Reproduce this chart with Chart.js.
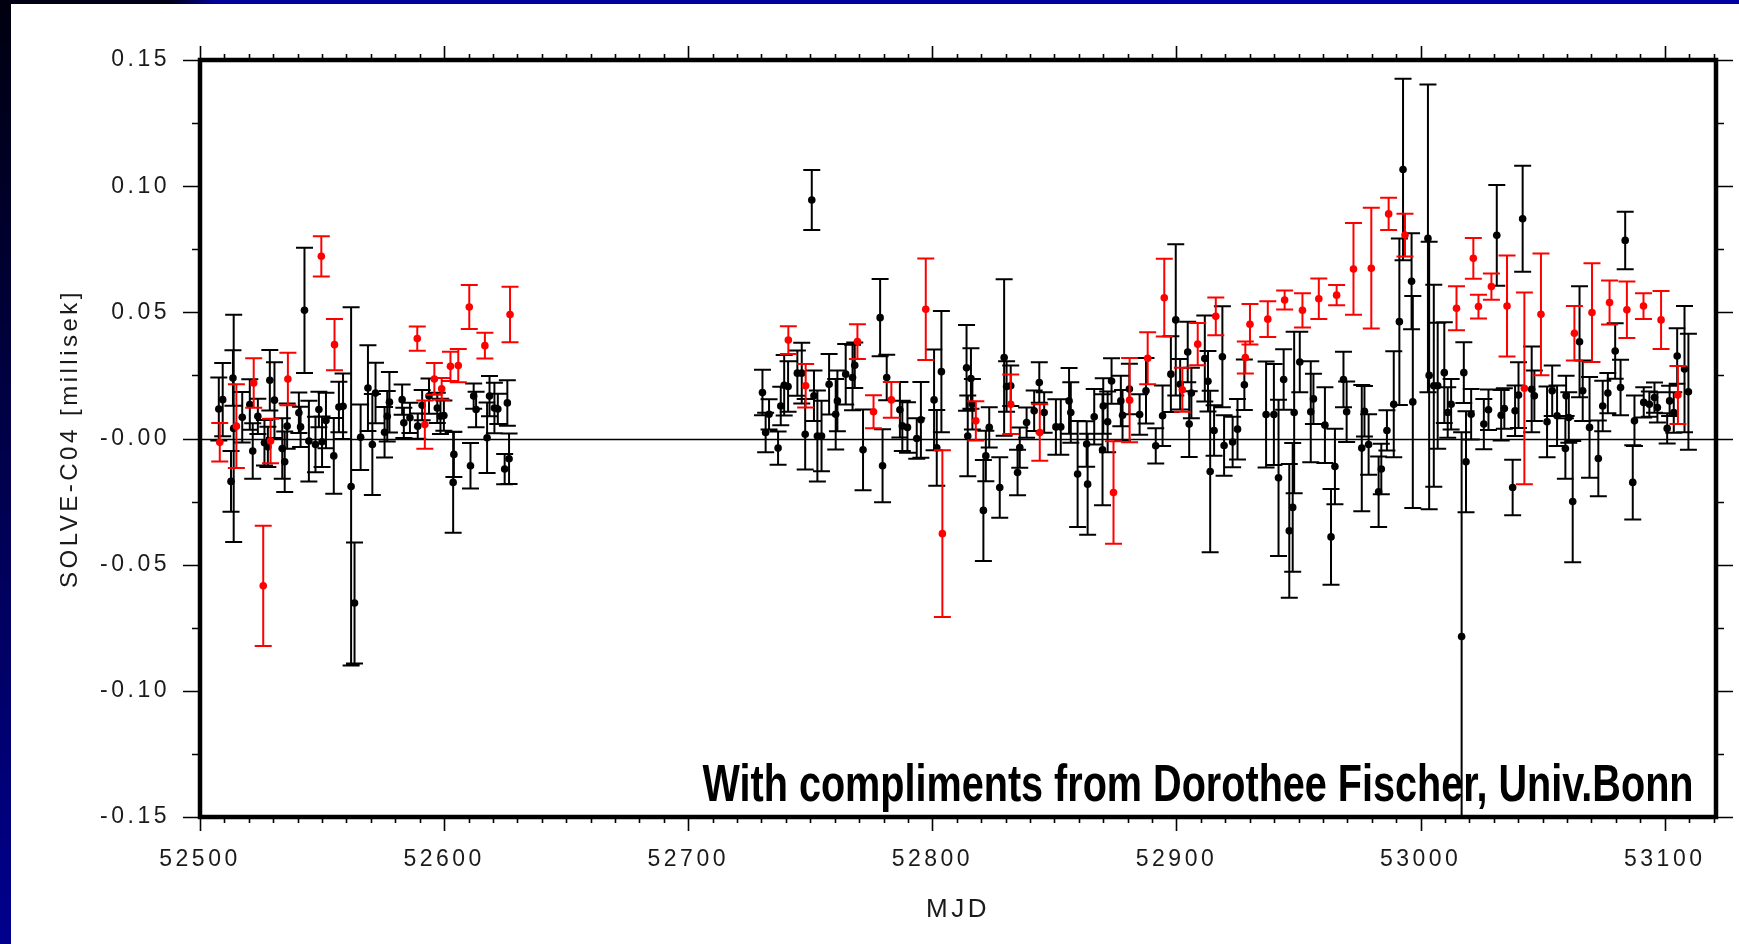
<!DOCTYPE html>
<html>
<head>
<meta charset="utf-8">
<title>SOLVE - C04</title>
<script src="https://cdn.jsdelivr.net/npm/chart.js@4.4.0/dist/chart.umd.min.js"></script>
<style>
	html, body { margin: 0; padding: 0; background: #fff; overflow: hidden; }
	#slide { position: relative; width: 1739px; height: 944px; background: #fff; }
	#topbar { position: absolute; left: 0; top: 0; width: 1739px; height: 4px;
		background: linear-gradient(to right, #000014 0, #000018 170px, #00009c 215px, #0000a6 100%); }
	#sidebar { position: absolute; left: 0; top: 0; width: 11px; height: 944px;
		background: linear-gradient(to bottom, #000010 0%, #00003a 35%, #00008e 100%); }
	#plot { position: absolute; left: 0; top: 0; }
</style>
</head>
<body>
<div id="slide">
	<canvas id="plot" width="1739" height="944"></canvas>
	<div id="topbar"></div>
	<div id="sidebar"></div>
</div>
<script>

	// ******************************************************** DATA
	// [MJD, SOLVE - C04 (ms), sigma (ms)]

	var blackSessions = [
		[52507.7, 0.0117, 0.0125], [52509.3, 0.0154, 0.0145], [52512.7, -0.0170, 0.012], [52513.5, 0.0240, 0.011],
		[52513.8, 0.0040, 0.045], [52517.3, 0.0084, 0.010], [52520.4, 0.0135, 0.010], [52521.6, -0.0050, 0.011],
		[52523.7, 0.0088, 0.007], [52526.4, -0.0017, 0.009], [52527.8, -0.0033, 0.008], [52528.6, 0.0231, 0.012],
		[52530.5, 0.0152, 0.015], [52533.7, -0.0040, 0.012], [52534.7, -0.0092, 0.012], [52535.7, 0.0049, 0.009],
		[52540.5, 0.0102, 0.008], [52541.2, 0.0046, 0.008], [52542.8, 0.0508, 0.0248], [52544.6, -0.0010, 0.016],
		[52547.3, -0.0024, 0.011], [52548.7, 0.0115, 0.007], [52550.0, -0.0013, 0.010], [52551.6, 0.0071, 0.011],
		[52554.8, -0.0069, 0.015], [52556.9, 0.0125, 0.010], [52558.6, 0.0128, 0.013], [52561.9, -0.0190, 0.071],
		[52563.3, -0.0652, 0.024], [52565.8, 0.0005, 0.013], [52568.8, 0.0200, 0.017], [52570.6, -0.0024, 0.020],
		[52571.9, 0.0180, 0.012], [52575.6, 0.0025, 0.010], [52576.7, 0.0088, 0.010], [52577.6, 0.0144, 0.012],
		[52582.8, 0.0154, 0.006], [52583.5, 0.0062, 0.006], [52586.0, 0.0082, 0.006], [52589.2, 0.0049, 0.005],
		[52591.0, 0.0132, 0.006], [52593.8, 0.0168, 0.007], [52597.2, 0.0121, 0.006], [52598.5, 0.0088, 0.007],
		[52599.9, 0.0091, 0.006], [52603.7, -0.0174, 0.020], [52604.0, -0.0063, 0.009], [52610.8, -0.0108, 0.009],
		[52612.1, 0.0168, 0.005], [52613.1, 0.0115, 0.007], [52617.6, 0.0003, 0.014], [52618.6, 0.0168, 0.008],
		[52620.6, 0.0121, 0.010], [52622.0, 0.0117, 0.006], [52624.8, -0.0121, 0.006], [52625.9, 0.0141, 0.009],
		[52626.6, -0.0080, 0.010],

		[52730.4, 0.0182, 0.009], [52731.7, 0.0024, 0.0078], [52733.1, 0.0096, 0.006], [52736.8, -0.0038, 0.0066],
		[52737.9, 0.0129, 0.0076], [52739.3, 0.0211, 0.012], [52740.9, 0.0206, 0.010], [52744.7, 0.0259, 0.009],
		[52746.5, 0.0259, 0.012], [52747.9, 0.0017, 0.014], [52750.6, 0.0945, 0.0119], [52751.5, 0.0169, 0.010],
		[52752.9, 0.0010, 0.018], [52754.6, 0.0010, 0.014], [52757.7, 0.0215, 0.012], [52760.4, 0.0096, 0.014],
		[52761.1, 0.0149, 0.012], [52764.5, 0.0255, 0.012], [52767.3, 0.0242, 0.013], [52768.2, 0.0290, 0.009],
		[52771.6, -0.0045, 0.016], [52778.6, 0.0479, 0.0153], [52779.6, -0.0108, 0.0145], [52781.3, 0.0242, 0.009],
		[52786.7, 0.0114, 0.011], [52787.7, 0.0050, 0.010], [52789.8, 0.0044, 0.010], [52793.6, 0.0000, 0.008],
		[52795.3, 0.0074, 0.015], [52800.7, 0.0153, 0.020], [52801.8, -0.0037, 0.015], [52803.7, 0.0265, 0.024],
		[52814.0, 0.0280, 0.017], [52814.5, 0.0010, 0.016], [52815.8, 0.0238, 0.012], [52816.4, 0.0136, 0.010],
		[52820.9, -0.0285, 0.020], [52821.9, -0.0069, 0.010], [52823.3, 0.0044, 0.008], [52827.6, -0.0194, 0.012],
		[52829.4, 0.0321, 0.031], [52830.4, 0.0206, 0.010], [52832.1, 0.0209, 0.008], [52834.9, -0.0135, 0.009],
		[52835.8, -0.0036, 0.008], [52838.6, 0.0063, 0.006], [52841.7, 0.0110, 0.008], [52843.8, 0.0222, 0.008],
		[52845.8, 0.0103, 0.008], [52850.6, 0.0046, 0.011], [52852.6, 0.0046, 0.011], [52856.0, 0.0149, 0.013],
		[52856.7, 0.0103, 0.012], [52859.5, -0.0141, 0.021], [52863.2, -0.0022, 0.009], [52863.6, -0.0181, 0.020],
		[52866.3, 0.0086, 0.011], [52869.7, -0.0045, 0.022], [52870.0, 0.0129, 0.011], [52871.8, 0.0066, 0.012],
		[52873.4, 0.0228, 0.009], [52877.2, 0.0149, 0.010], [52877.9, 0.0092, 0.010], [52880.7, 0.0196, 0.010],
		[52884.9, 0.0095, 0.008], [52887.5, 0.0189, 0.013], [52891.5, -0.0029, 0.007], [52894.3, 0.0090, 0.012],
		[52897.7, 0.0255, 0.015], [52899.7, 0.0470, 0.030], [52901.5, 0.0215, 0.010], [52904.6, 0.0343, 0.012],
		[52905.2, 0.0057, 0.013], [52906.1, 0.0180, 0.010],

		[52911.6, 0.0317, 0.017], [52912.9, 0.0227, 0.012], [52913.8, -0.0131, 0.032], [52915.4, 0.0032, 0.010],
		[52918.8, 0.0324, 0.020], [52919.5, -0.0028, 0.012], [52923.0, -0.0014, 0.010], [52925.0, 0.0037, 0.012],
		[52927.8, 0.0213, 0.010], [52936.7, 0.0095, 0.021], [52939.9, 0.0095, 0.020], [52941.8, -0.0156, 0.031],
		[52943.9, 0.0234, 0.012], [52946.2, -0.0366, 0.0265], [52947.6, -0.0273, 0.0255], [52948.2, 0.0103, 0.032],
		[52950.5, 0.0303, 0.012], [52955.0, 0.0106, 0.020], [52956.1, 0.0157, 0.010], [52960.8, 0.0053, 0.015],
		[52963.3, -0.0390, 0.019], [52964.9, -0.0111, 0.015], [52968.4, 0.0234, 0.011], [52969.7, 0.0106, 0.012],
		[52975.9, -0.0038, 0.025], [52977.0, 0.0108, 0.010], [52978.7, -0.0024, 0.012], [52982.8, -0.0211, 0.014],
		[52983.9, -0.0121, 0.010], [52986.2, 0.0032, 0.008], [52989.0, 0.0136, 0.021], [52991.3, 0.0463, 0.033],
		[52992.8, 0.1066, 0.036], [52996.3, 0.0623, 0.019], [52996.8, 0.0145, 0.042], [53003.0, 0.0793, 0.061],
		[53003.5, 0.0250, 0.053], [53005.4, 0.0209, 0.040], [53007.0, 0.0209, 0.025], [53009.7, 0.0261, 0.020],
		[53011.1, 0.0103, 0.010], [53012.5, 0.0136, 0.010], [53016.8, -0.0785, 0.081], [53017.7, 0.0261, 0.012],
		[53018.6, -0.0092, 0.020], [53020.7, 0.0096, 0.010], [53025.9, 0.0057, 0.010], [53027.8, 0.0114, 0.008],
		[53031.2, 0.0805, 0.020], [53033.0, 0.0092, 0.010], [53034.3, 0.0119, 0.008], [53037.7, -0.0194, 0.011],
		[53038.7, 0.0110, 0.010], [53040.1, 0.0172, 0.013], [53041.8, 0.0871, 0.021], [53045.5, 0.0195, 0.017],
		[53046.6, 0.0169, 0.010], [53051.8, 0.0066, 0.014], [53053.9, 0.0189, 0.010], [53055.9, 0.0090, 0.012],
		[53059.3, -0.0040, 0.012], [53059.6, 0.0169, 0.008], [53060.7, 0.0083, 0.010], [53062.3, -0.0250, 0.024],
		[53065.1, 0.0383, 0.022], [53066.4, 0.0189, 0.012], [53069.2, 0.0044, 0.020], [53072.8, -0.0079, 0.015],
		[53074.6, 0.0129, 0.010], [53076.7, 0.0180, 0.008], [53079.7, 0.0347, 0.011], [53081.9, 0.0202, 0.011],
		[53083.8, 0.0785, 0.0114], [53086.9, -0.0174, 0.0147], [53087.6, 0.0070, 0.010], [53091.4, 0.0143, 0.006],
		[53093.7, 0.0136, 0.005], [53095.8, 0.0162, 0.006], [53097.0, 0.0123, 0.006], [53101.0, 0.0040, 0.006],
		[53102.0, 0.0149, 0.006], [53103.7, 0.0103, 0.008], [53105.1, 0.0327, 0.011], [53108.1, 0.0275, 0.025],
		[53109.7, 0.0185, 0.023]
	];

	var redSessions = [
		[52508.1, -0.0015, 0.0076], [52514.9, 0.0049, 0.0166], [52522.0, 0.0220, 0.0098], [52525.9, -0.0584, 0.0238],
		[52528.9, -0.0010, 0.0088], [52536.0, 0.0236, 0.0104], [52549.7, 0.0722, 0.0080], [52555.1, 0.0372, 0.0102],
		[52589.0, 0.0396, 0.0048], [52592.1, 0.0055, 0.0096], [52596.0, 0.0236, 0.0063], [52599.0, 0.0197, 0.0043],
		[52602.6, 0.0286, 0.0058], [52605.8, 0.0289, 0.0066], [52610.3, 0.0521, 0.0087], [52616.7, 0.0368, 0.0051],
		[52627.0, 0.0491, 0.0110],

		[52741.0, 0.0390, 0.0055], [52748.1, 0.0209, 0.0086], [52769.3, 0.0384, 0.0069], [52775.9, 0.0106, 0.0065],
		[52783.2, 0.0153, 0.0071], [52797.3, 0.0512, 0.0201], [52804.1, -0.0377, 0.0330], [52817.8, 0.0070, 0.0078],
		[52832.1, 0.0136, 0.0118], [52844.0, 0.0024, 0.0112], [52874.2, -0.0214, 0.0203], [52880.8, 0.0152, 0.0167],
		[52888.2, 0.0318, 0.0103], [52895.0, 0.0558, 0.0154], [52902.4, 0.0193, 0.0087], [52908.7, 0.0374, 0.0084],
		[52916.1, 0.0484, 0.0075], [52928.2, 0.0321, 0.0063], [52930.1, 0.0453, 0.0080], [52937.4, 0.0473, 0.0071],
		[52944.3, 0.0549, 0.0038], [52951.6, 0.0508, 0.0068], [52958.3, 0.0554, 0.0080], [52965.6, 0.0568, 0.0040],
		[52972.5, 0.0672, 0.0182], [52979.8, 0.0675, 0.0239], [52986.9, 0.0890, 0.0064], [52993.6, 0.0806, 0.0085],
		[53014.7, 0.0516, 0.0087], [53021.6, 0.0714, 0.0081], [53023.7, 0.0523, 0.0047], [53029.0, 0.0602, 0.0052],
		[53035.4, 0.0525, 0.0200], [53042.5, 0.0199, 0.0380], [53049.3, 0.0492, 0.0241], [53063.0, 0.0417, 0.0108],
		[53070.2, 0.0499, 0.0196], [53077.4, 0.0539, 0.0087], [53084.5, 0.0510, 0.0112], [53091.3, 0.0525, 0.0051],
		[53098.5, 0.0470, 0.0115], [53105.4, 0.0172, 0.0115]
	];

	var xTickValues = [52500, 52600, 52700, 52800, 52900, 53000, 53100];
	var yTickValues = [-0.15, -0.10, -0.05, 0, 0.05, 0.10, 0.15];
	var yTickLabels = ['-0.15', '-0.10', '-0.05', '-0.00', '0.05', '0.10', '0.15'];

	var mjdRange = [52500, 53121];
	var msRange = [-0.15, 0.15];

	var creditText = 'With compliments from Dorothee Fischer, Univ.Bonn';

	// ******************************************************** PLUGINS

	var FONT = "'Liberation Sans', Arial, Helvetica, sans-serif";

	// spaced-out lettering for the axis text
	var spacing = {
		id: 'spacing',
		beforeDraw: function(chart) { chart.ctx.letterSpacing = '3.5px'; }
	};

	// zero line and the credit line, under the data
	var underlay = {
		id: 'underlay',
		beforeDatasetsDraw: function(chart) {
			var ctx = chart.ctx, a = chart.chartArea, y = chart.scales.y;
			ctx.save();
			ctx.letterSpacing = '0px';

			var y0 = Math.round(y.getPixelForValue(0)) + 0.5;
			ctx.strokeStyle = '#000';
			ctx.lineWidth = 1.5;
			ctx.beginPath();
			ctx.moveTo(a.left, y0);
			ctx.lineTo(a.right, y0);
			ctx.stroke();

			ctx.font = 'bold 52px ' + FONT;
			ctx.fillStyle = '#000';
			ctx.textAlign = 'left';
			ctx.textBaseline = 'alphabetic';
			var w = ctx.measureText(creditText).width;
			var target = 991;
			ctx.translate(a.right - 22.5 - target, a.bottom - 16);
			ctx.scale(target / w, 1);
			ctx.fillText(creditText, 0, 0);
			ctx.restore();
		}
	};

	// error bars with caps, drawn just before each dataset's markers
	var errorBars = {
		id: 'errorBars',
		beforeDatasetDraw: function(chart, args) {
			var ds = chart.data.datasets[args.index];
			var ctx = chart.ctx, a = chart.chartArea;
			var x = chart.scales.x, y = chart.scales.y;
			var cap = 8.5;
			ctx.save();
			ctx.beginPath();
			ctx.rect(a.left, a.top, a.right - a.left, a.bottom - a.top);
			ctx.clip();
			ctx.strokeStyle = ds.borderColor;
			ctx.lineWidth = 2;
			ctx.beginPath();
			ds.data.forEach(function(p, i) {
				var px = x.getPixelForValue(p.x);
				var lo = y.getPixelForValue(p.y - ds.sigma[i]);
				var hi = y.getPixelForValue(p.y + ds.sigma[i]);
				ctx.moveTo(px, lo); ctx.lineTo(px, hi);
				ctx.moveTo(px - cap, lo); ctx.lineTo(px + cap, lo);
				ctx.moveTo(px - cap, hi); ctx.lineTo(px + cap, hi);
			});
			ctx.stroke();
			ctx.restore();
		}
	};

	// heavy frame with outward ticks on all four sides
	var frame = {
		id: 'frame',
		afterDatasetsDraw: function(chart) {
			var ctx = chart.ctx, a = chart.chartArea;
			var x = chart.scales.x, y = chart.scales.y;
			ctx.save();
			ctx.strokeStyle = '#000';
			ctx.lineWidth = 1.6;
			ctx.beginPath();
			for (var m = mjdRange[0]; m <= mjdRange[1]; m += 10) {
				var px = Math.round(x.getPixelForValue(m)) + 0.5;
				var len = (m % 100 === 0) ? 14 : 6;
				ctx.moveTo(px, a.bottom); ctx.lineTo(px, a.bottom + len);
				ctx.moveTo(px, a.top); ctx.lineTo(px, a.top - len);
			}
			for (var k = -6; k <= 6; k++) {
				var py = Math.round(y.getPixelForValue(k * 0.025)) + 0.5;
				var l = (k % 2 === 0) ? 17 : 8;
				ctx.moveTo(a.left, py); ctx.lineTo(a.left - l, py);
				ctx.moveTo(a.right, py); ctx.lineTo(a.right + l, py);
			}
			ctx.stroke();
			ctx.lineWidth = 4.5;
			ctx.strokeRect(a.left, a.top, a.right - a.left, a.bottom - a.top);
			ctx.restore();
		}
	};

	// ******************************************************** CHART

	function toPoints(rows) { return rows.map(function(r) { return {x: r[0], y: r[1]}; }); }
	function toSigma(rows) { return rows.map(function(r) { return r[2]; }); }

	var _ctx = document.getElementById('plot').getContext('2d');

	window.myChart = new Chart(_ctx, {
		type: 'scatter',
		data: {
			datasets: [{
				label: 'red',
				data: toPoints(redSessions),
				sigma: toSigma(redSessions),
				borderColor: '#ff0000',
				backgroundColor: '#ff0000',
				pointRadius: 3.8,
				pointBorderWidth: 0,
				order: 0
			}, {
				label: 'black',
				data: toPoints(blackSessions),
				sigma: toSigma(blackSessions),
				borderColor: '#000000',
				backgroundColor: '#000000',
				pointRadius: 3.8,
				pointBorderWidth: 0,
				order: 1
			}]
		},
		options: {
			responsive: false,
			animation: false,
			devicePixelRatio: 1,
			layout: { padding: { left: 0, top: 60, right: 23, bottom: 0 } },
			plugins: {
				legend: { display: false },
				tooltip: { enabled: false }
			},
			scales: {
				x: {
					type: 'linear',
					min: mjdRange[0],
					max: mjdRange[1],
					grid: { display: false, drawTicks: false },
					border: { display: false },
					afterBuildTicks: function(s) { s.ticks = xTickValues.map(function(v) { return {value: v}; }); },
					afterFit: function(s) { s.height = 127; },
					ticks: {
						autoSkip: false,
						maxRotation: 0,
						padding: 29,
						color: '#1a1a1a',
						font: { family: FONT, size: 23 },
						callback: function(v) { return String(v); }
					},
					title: {
						display: true,
						text: 'MJD',
						color: '#1a1a1a',
						font: { family: FONT, size: 26 },
						padding: { top: 0, bottom: 19 }
					}
				},
				y: {
					min: msRange[0],
					max: msRange[1],
					grid: { display: false, drawTicks: false },
					border: { display: false },
					afterBuildTicks: function(s) { s.ticks = yTickValues.map(function(v) { return {value: v}; }); },
					afterFit: function(s) { s.width = 200; },
					ticks: {
						autoSkip: false,
						padding: 30,
						color: '#1a1a1a',
						font: { family: FONT, size: 23 },
						callback: function(v, i) { return yTickLabels[i]; }
					},
					title: {
						display: true,
						text: 'SOLVE-C04 [millisek]',
						color: '#1a1a1a',
						font: { family: FONT, size: 24 },
						padding: { top: 56, bottom: 0 }
					}
				}
			}
		},
		plugins: [spacing, underlay, errorBars, frame]
	});

</script>
</body>
</html>
